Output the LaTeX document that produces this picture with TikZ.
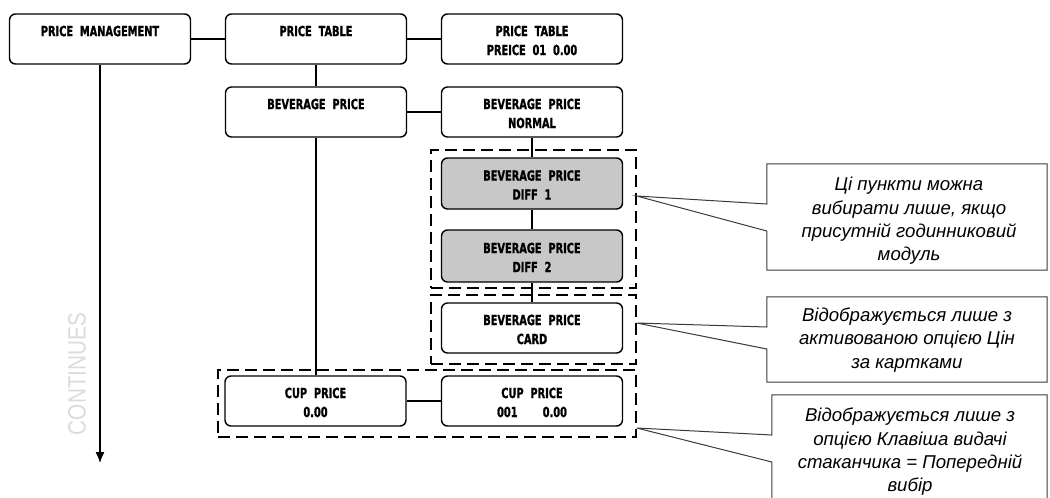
\documentclass[tikz,border=0pt]{standalone}
\usepackage{fontspec}
\newfontfamily\nodefam[FakeStretch=0.7,FakeBold=1.2]{DejaVu Sans}
\newfontfamily\callfam{Liberation Sans}
\newfontfamily\contfam[FakeStretch=0.83]{Liberation Sans}
\usetikzlibrary{arrows.meta}
\definecolor{boxgray}{HTML}{C8C8C8}
\definecolor{contgray}{HTML}{D8DCDF}
\definecolor{callline}{HTML}{3A3A3A}
\newcommand\mtxt[2]{\strut #1\\\rule{0pt}{10pt}#2}
\begin{document}
\begin{tikzpicture}[x=1pt,y=-1pt,
  menubox/.style={draw=black, line width=1.4pt, rounded corners=6pt, minimum width=181pt, minimum height=50pt, inner sep=0pt, align=center, font=\nodefam\bfseries\fontsize{14}{19}\selectfont},
  graybox/.style={menubox, fill=boxgray},
  groupbox/.style={draw=black, line width=1.3pt, dash pattern=on 12pt off 6pt, inner sep=0pt},
  link/.style={draw=black, line width=1.3pt},
  calltext/.style={align=center, inner sep=0pt, text=black, font=\callfam\itshape\fontsize{18.6}{23.3}\selectfont},
  callout/.style={draw=callline, line width=1pt},
]
\useasboundingbox (0,0) rectangle (1050,498);

% menu boxes
\node[menubox] (pm)   at (100,39)   {\mtxt{PRICE~~MANAGEMENT}{}};
\node[menubox] (pt)   at (316,39)   {\mtxt{PRICE~~TABLE}{}};
\node[menubox] (pt2)  at (532,39)   {\mtxt{PRICE~~TABLE}{PREICE~~01~~0.00}};
\node[menubox] (bp)   at (316,112)  {\mtxt{BEVERAGE~~PRICE}{}};
\node[menubox] (bpn)  at (532,112)  {\mtxt{BEVERAGE~~PRICE}{NORMAL}};
\node[graybox, minimum height=51pt] (d1) at (532,183.5) {\mtxt{BEVERAGE~~PRICE}{DIFF~~1}};
\node[graybox, minimum height=52pt] (d2) at (532,256) {\mtxt{BEVERAGE~~PRICE}{DIFF~~2}};
\node[menubox] (card) at (532,328)  {\mtxt{BEVERAGE~~PRICE}{CARD}};
\node[menubox] (cup1) at (315.5,401) {\mtxt{CUP~~PRICE}{0.00}};
\node[menubox] (cup2) at (532,401)  {\mtxt{CUP~~PRICE}{001\hspace{1.8em}0.00}};

% dashed groups
\node[groupbox, minimum width=205pt, minimum height=138pt] (g1) at (533.5,219) {};
\node[groupbox, minimum width=205pt, minimum height=69pt]  (g2) at (533.5,329.5) {};
\node[groupbox, minimum width=418pt, minimum height=67pt]  (g3) at (427,403.5) {};

% connectors
\draw[link] (pm.east) -- (pt.west);
\draw[link] (pt.east) -- (pt2.west);
\draw[link] (pt.south) -- (bp.north);
\draw[link] (bp.east) -- (bpn.west);
\draw[link] (bpn.south) -- (d1.north);
\draw[link] (d1.south) -- (d2.north);
\draw[link] (d2.south) -- (card.north);
\draw[link] (bp.south) -- (bp.south |- cup1.north);
\draw[link] (cup1.east) -- (cup2.west);
\coordinate (contend) at (100,463);
\draw[link, -{Latex[length=11pt,width=9pt]}] (pm.south) -- (pm.south |- contend);
\node[rotate=90, text=contgray, inner sep=0pt, font=\contfam\fontsize{25}{25}\selectfont] (cont) at (77,374) {CONTINUES};

% callouts
\coordinate (t1) at (g1.east |- 0,196);
\coordinate (t2) at (g2.east |- 0,323);
\coordinate (t3) at (g3.east |- 0,428);
\node[minimum width=280pt, minimum height=106pt, inner sep=0pt] (c1) at (907,217) {};
\node[minimum width=280pt, minimum height=85pt, inner sep=0pt] (c2) at (907,339.5) {};
\node[minimum width=275pt, minimum height=206pt, inner sep=0pt] (c3) at (909.5,498) {};
\draw[callout] (c1.north west) -- (c1.north east) -- (c1.south east) -- (c1.south west)
  -- (c1.west |- 0,231) -- (t1) -- (c1.west |- 0,204) -- cycle;
\draw[callout] (c2.north west) -- (c2.north east) -- (c2.south east) -- (c2.south west)
  -- (c2.west |- 0,349) -- (t2) -- (c2.west |- 0,327) -- cycle;
\draw[callout] (c3.east) -- (c3.north east) -- (c3.north west)
  -- (c3.west |- 0,435) -- (t3) -- (c3.west |- 0,462) -- (c3.west);

\node[calltext] (c1t) at (909,221) {Ці пункти можна\\вибирати лише, якщо\\присутній годинниковий\\модуль};
\node[calltext] (c2t) at (907,340) {Відображується лише з\\активованою опцією Цін\\за картками};
\node[calltext] (c3t) at (910,452) {Відображується лише з\\опцією Клавіша видачі\\стаканчика = Попередній\\вибір};
\end{tikzpicture}
\end{document}
